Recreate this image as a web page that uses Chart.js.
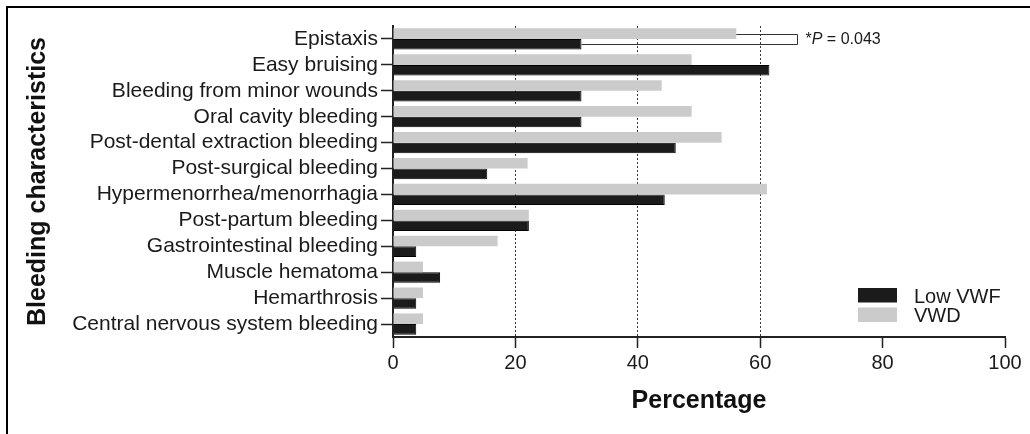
<!DOCTYPE html>
<html>
<head>
<meta charset="utf-8">
<title>Bleeding characteristics</title>
<script src="https://cdn.jsdelivr.net/npm/chart.js@4/dist/chart.umd.min.js"></script>
<style>
  html, body { margin: 0; padding: 0; background: #fff; }
  #wrap { width: 1030px; height: 434px; position: relative; }
  canvas { display: block; }
</style>
</head>
<body>
<div id="wrap"><canvas id="chart" width="1030" height="434"></canvas></div>
<script>
// Bleeding symptoms reported in each group (% of patients)
const categories = [
  'Epistaxis',
  'Easy bruising',
  'Bleeding from minor wounds',
  'Oral cavity bleeding',
  'Post-dental extraction bleeding',
  'Post-surgical bleeding',
  'Hypermenorrhea/menorrhagia',
  'Post-partum bleeding',
  'Gastrointestinal bleeding',
  'Muscle hematoma',
  'Hemarthrosis',
  'Central nervous system bleeding'
];
const lowVWF = [30.8, 61.5, 30.8, 30.8, 46.2, 15.4, 44.4, 22.2, 3.8, 7.7, 3.8, 3.8];
const vwd    = [56.1, 48.8, 43.9, 48.8, 53.7, 22.0, 61.1, 22.2, 17.1, 4.9, 4.9, 4.9];
const seriesNames = ['Low VWF', 'VWD'];
const xTicks = [0, 20, 40, 60, 80, 100];
const dottedAt = [20, 40, 60];
const comparisonCategory = 'Epistaxis';
const comparisonP = '0.043';

const FAMILY = "'Liberation Sans', Arial, Helvetica, sans-serif";
const BLACK = '#1b1b1b';
const GREY = '#cbcbcb';

// Frame, significance bracket and legend drawn on top of the bars
const decorations = {
  id: 'decorations',
  afterDraw(chart) {
    const ctx = chart.ctx;
    const xs = chart.scales.x;
    const area = chart.chartArea;
    ctx.save();

    // panel frame (top and left edges)
    ctx.fillStyle = '#000';
    ctx.fillRect(6, 6, chart.width - 6, 2);
    ctx.fillRect(6, 6, 2, chart.height - 6);

    // bracket joining the two Epistaxis bars
    const i = categories.indexOf(comparisonCategory);
    const barV = chart.getDatasetMeta(0).data[i];
    const barL = chart.getDatasetMeta(1).data[i];
    const xr = Math.round(xs.getPixelForValue(66)) + 0.5;
    const y1 = Math.round(barV.y) + 0.5;
    const y2 = Math.round(barL.y) + 0.5;
    ctx.strokeStyle = '#333';
    ctx.lineWidth = 1;
    ctx.beginPath();
    ctx.moveTo(barV.x, y1);
    ctx.lineTo(xr, y1);
    ctx.lineTo(xr, y2);
    ctx.lineTo(barL.x, y2);
    ctx.stroke();

    let tx = xr + 8;
    const ty = (y1 + y2) / 2;
    ctx.fillStyle = '#1a1a1a';
    ctx.textBaseline = 'middle';
    ctx.textAlign = 'left';
    ctx.font = '16px ' + FAMILY;
    ctx.fillText('*', tx, ty);
    tx += ctx.measureText('*').width;
    ctx.font = 'italic 16px ' + FAMILY;
    ctx.fillText('P', tx, ty);
    tx += ctx.measureText('P').width;
    ctx.font = '16px ' + FAMILY;
    ctx.fillText(' = ' + comparisonP, tx, ty);

    // legend
    const lx = area.right - 147;
    const entries = [[seriesNames[0], BLACK], [seriesNames[1], GREY]];
    entries.forEach(([name, color], k) => {
      const top = 288 + k * 19.5;
      ctx.fillStyle = color;
      ctx.fillRect(lx, top, 39, 14.5);
      ctx.fillStyle = '#1a1a1a';
      ctx.font = '20px ' + FAMILY;
      ctx.textBaseline = 'alphabetic';
      ctx.fillText(name, lx + 56, top + 14.5);
    });
    ctx.restore();
  }
};

new Chart(document.getElementById('chart'), {
  type: 'bar',
  data: {
    labels: categories,
    datasets: [
      { label: seriesNames[1], data: vwd, backgroundColor: GREY, borderWidth: 0 },
      { label: seriesNames[0], data: lowVWF, backgroundColor: BLACK, borderColor: '#000', borderWidth: 1 }
    ]
  },
  options: {
    indexAxis: 'y',
    responsive: false,
    animation: false,
    datasets: { bar: { barPercentage: 1, categoryPercentage: 0.82 } },
    layout: { padding: { top: 26, right: 25, bottom: 0, left: 0 } },
    plugins: { legend: { display: false }, tooltip: { enabled: false } },
    scales: {
      x: {
        type: 'linear',
        min: 0,
        max: 100,
        afterBuildTicks: s => { s.ticks = xTicks.map(v => ({ value: v })); },
        ticks: { font: { size: 20, family: FAMILY }, color: '#1a1a1a', padding: 3 },
        grid: {
          color: c => (c.tick && dottedAt.includes(c.tick.value)) ? '#3a3a3a' : 'rgba(0,0,0,0)',
          lineWidth: 1,
          tickColor: '#222',
          tickLength: 11,
          tickWidth: 1.5,
          tickBorderDash: []
        },
        border: { color: '#222', width: 2, dash: [2, 2] },
        title: {
          display: true,
          text: 'Percentage',
          color: '#111',
          font: { size: 25, weight: 'bold', family: FAMILY },
          padding: { top: 0, bottom: 18 }
        },
        afterFit: s => { s.height = 97; }
      },
      y: {
        type: 'category',
        ticks: { font: { size: 21, family: FAMILY }, color: '#1a1a1a', padding: 3, autoSkip: false },
        grid: { drawOnChartArea: false, offset: false, tickLength: 12, tickColor: '#222', tickWidth: 1.5 },
        border: { color: '#222', width: 2 },
        title: {
          display: true,
          text: 'Bleeding characteristics',
          color: '#111',
          font: { size: 25, weight: 'bold', family: FAMILY },
          padding: { top: 23, bottom: 0 }
        },
        afterFit: s => { s.width = 393; }
      }
    }
  },
  plugins: [decorations]
});
</script>
</body>
</html>
